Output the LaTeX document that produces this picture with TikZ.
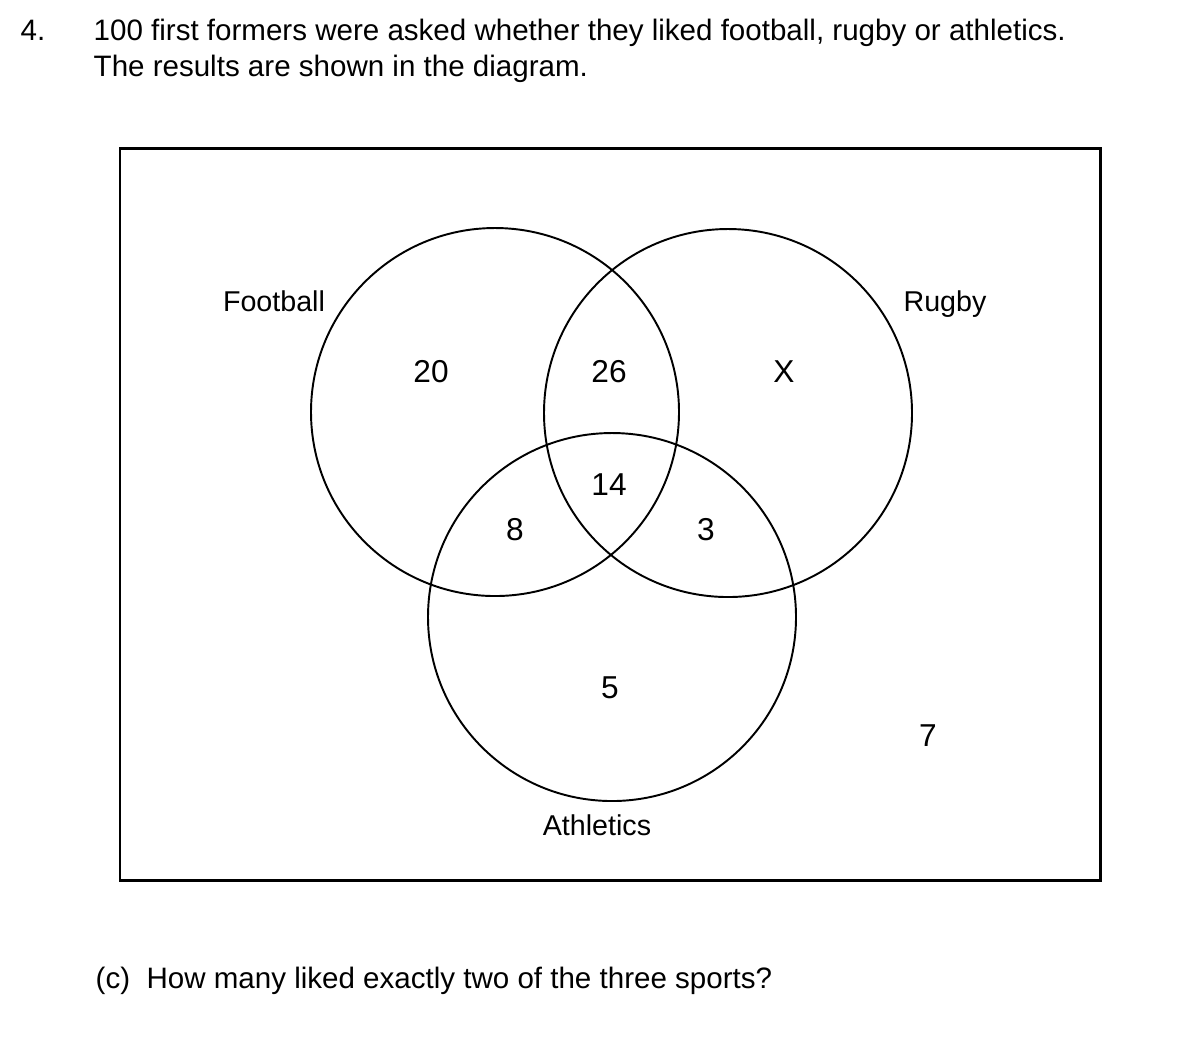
\documentclass[tikz,border=0pt]{standalone}
\usepackage{fontspec}
\setmainfont{Liberation Sans}
\usetikzlibrary{calc}

\begin{document}
\begin{tikzpicture}[x=0.01cm,y=-0.01cm,
    txt/.style={anchor=base,inner sep=0pt,font=\fontsize{8.15}{10}\selectfont},
    qtxt/.style={anchor=base west,inner sep=0pt,font=\fontsize{8.4}{10}\selectfont},
    num/.style={anchor=base,inner sep=0pt,font=\fontsize{9}{11}\selectfont},
    set/.style={line width=0.55pt}]
        \useasboundingbox (0,0) rectangle (1182,1056);

        % Question text
        \node[qtxt] (qnum) at (20,40) {4.};
        \node[qtxt] (qline1) at (93,40) {100 first formers were asked whether they liked football, rugby or athletics.};
        \node[qtxt] (qline2) at (93,76) {The results are shown in the diagram.};

        % Universal set
        \draw[line width=0.85pt] (120,148) rectangle (1100,880);

        % Sets
        \draw[set] (495,412) circle (184);
        \draw[set] (728,413) circle (184);
        \draw[set] (612,617) circle (184);

        % Set names
        \node[txt] (football) at (274,311) {Football};
        \node[txt] (rugby) at (945,311) {Rugby};
        \node[txt] (athletics) at (597,835) {Athletics};

        % Regions
        \node[num] (fonly) at (431,382) {20};
        \node[num] (fr) at (609,382) {26};
        \node[num] (ronly) at (784,382) {X};
        \node[num] (fra) at (609,495) {14};
        \node[num] (fa) at (515,540) {8};
        \node[num] (ra) at (706,540) {3};
        \node[num] (aonly) at (610,698) {5};
        \node[num] (none) at (928,746) {7};

        % Part (c)
        \node[qtxt] (partc) at (95,988) {(c)\ \ How many liked exactly two of the three sports?};
\end{tikzpicture}
\end{document}
